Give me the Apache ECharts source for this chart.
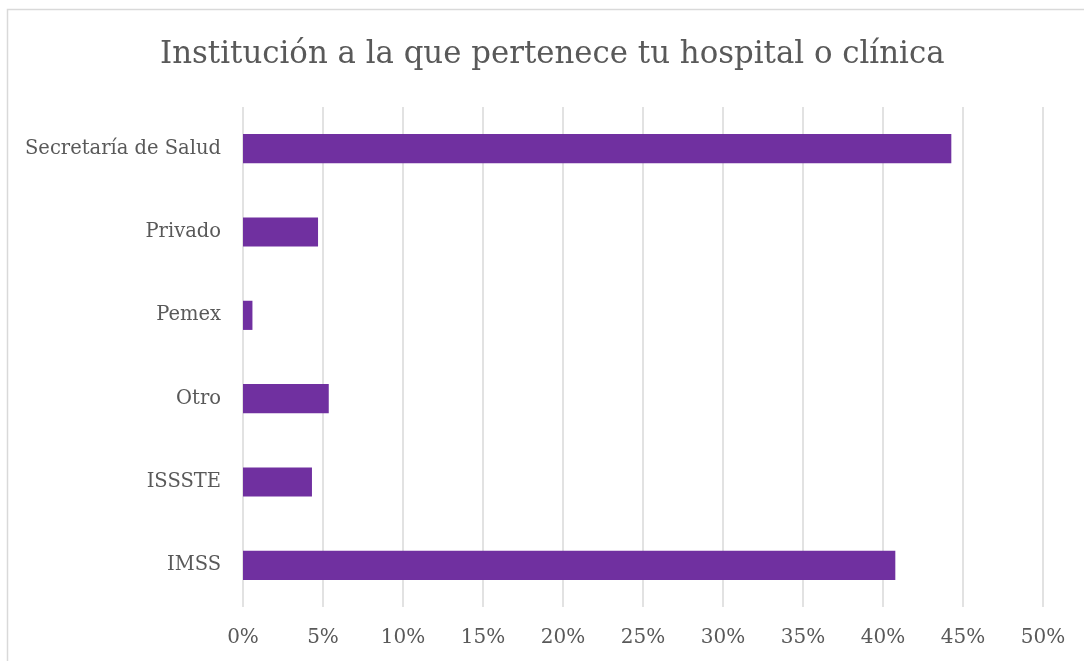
<!DOCTYPE html>
<html>
<head>
<meta charset="utf-8">
<script src="https://cdn.jsdelivr.net/npm/echarts@6/dist/echarts.min.js"></script>
<style>
html,body{margin:0;padding:0;background:#fff;}
#chart{width:1084px;height:661px;}
</style>
</head>
<body>
<div id="chart"></div>
<script>
const title = "Institución a la que pertenece tu hospital o clínica";
const categories = ["IMSS", "ISSSTE", "Otro", "Pemex", "Privado", "Secretaría de Salud"];
const values = [40.77, 4.31, 5.36, 0.59, 4.69, 44.27];

const font = "'DejaVu Serif', 'Liberation Serif', serif";
const chart = echarts.init(document.getElementById('chart'));
chart.setOption({
  animation: false,
  backgroundColor: '#ffffff',
  title: {
    text: title,
    left: 160,
    top: 39,
    padding: 0,
    textStyle: { fontFamily: font, fontSize: 30.8, fontWeight: 'normal', color: '#595959' }
  },
  graphic: [{
    type: 'rect',
    shape: { x: 7.5, y: 9.5, width: 1090, height: 670 },
    style: { fill: 'none', stroke: '#d9d9d9', lineWidth: 1.5 },
    silent: true
  }],
  grid: { left: 243, right: 41, top: 107, bottom: 54, containLabel: false },
  xAxis: {
    type: 'value',
    min: 0, max: 50, interval: 5,
    axisLine: { show: false },
    axisTick: { show: false },
    splitLine: { lineStyle: { color: '#d9d9d9', width: 1.5 } },
    axisLabel: { formatter: '{value}%', fontFamily: font, fontSize: 20, color: '#595959', margin: 21 }
  },
  yAxis: {
    type: 'category',
    data: categories,
    axisLine: { show: false },
    axisTick: { show: false },
    axisLabel: { fontFamily: font, fontSize: 19.5, color: '#595959', margin: 22 }
  },
  series: [{
    type: 'bar',
    data: values,
    barWidth: '35%',
    itemStyle: { color: '#7030a0' }
  }]
});
</script>
</body>
</html>
